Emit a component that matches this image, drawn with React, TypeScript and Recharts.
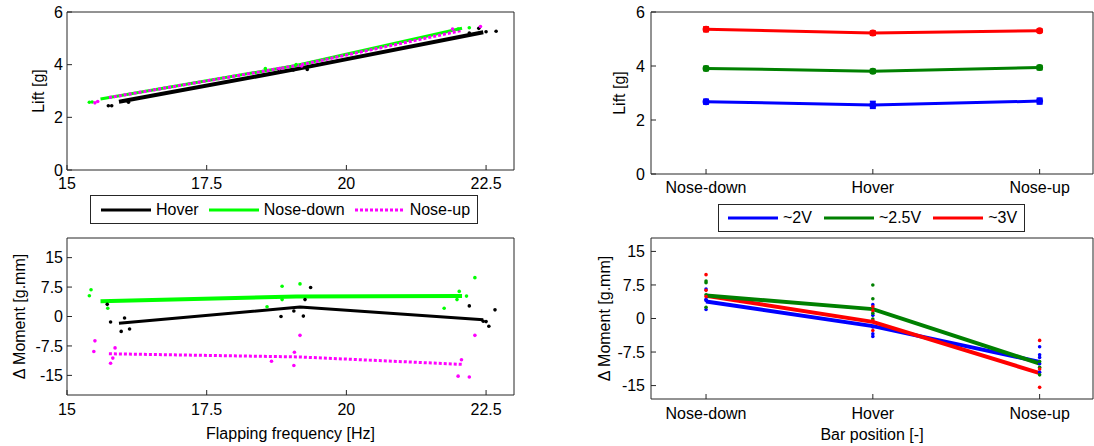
import React from 'react';
import { ComposedChart, Line, Scatter, XAxis, YAxis, ErrorBar } from 'recharts';

const FONT = '"Liberation Sans", Arial, Helvetica, sans-serif';
const AXIS = '#262626';

// ---- left: lift / moment vs flapping frequency ----
const FREQ_TICKS = [15, 17.5, 20, 22.5];
const LIFT_TICKS = [0, 2, 4, 6];
const MOMENT_TICKS = [-15, -7.5, 0, 7.5, 15];

const hoverFreq = [15.93, 19.17, 22.45];
const hoverLift = [2.59, 3.86, 5.23];
const hoverMoment = [-1.7, 2.4, -0.85];

const downFreq = [15.6, 19.1, 22.07];
const downLift = [2.7, 3.97, 5.38];
const downMoment = [3.9, 5.1, 5.2];

const upFreq = [15.75, 19.15, 22.07];
const upLift = [2.75, 3.98, 5.3];
const upMoment = [-9.5, -10.3, -12.2];

// raw samples [freq, value]
const hoverLiftPts = [[15.74, 2.44], [15.8, 2.44], [16.1, 2.57], [18.8, 3.8], [19.05, 3.8], [19.3, 3.82], [22.2, 5.2], [22.37, 5.38], [22.5, 5.25], [22.68, 5.27]];
const downLiftPts = [[15.4, 2.57], [15.45, 2.58], [18.55, 3.85], [19.1, 4.0], [22.0, 5.35], [22.2, 5.4]];
const upLiftPts = [[15.5, 2.55], [15.55, 2.6], [18.8, 3.85], [19.2, 3.95], [21.9, 5.35], [22.4, 5.45]];

const hoverMomentPts = [[15.72, 3.1], [15.78, -1.4], [15.97, -3.8], [16.03, -0.4], [16.12, -3.2], [18.83, 0], [19.06, 1.4], [19.23, 0.1], [19.26, 4.3], [19.36, 7.4], [22.2, 2.7], [22.45, -1.2], [22.5, -1.3], [22.55, -2.5], [22.66, 1.7]];
const downMomentPts = [[15.4, 5.3], [15.43, 6.8], [15.73, 2.1], [18.58, 2.5], [18.85, 4.3], [18.85, 7.7], [19.17, 8.3], [21.75, 2.1], [21.98, 4.3], [22.02, 6.4], [22.15, 5.2], [22.3, 9.9]];
const upMomentPts = [[15.5, -6.2], [15.48, -8.9], [15.78, -11.9], [15.82, -10.6], [15.86, -8.0], [19.17, -4.8], [19.07, -9.1], [19.06, -12.5], [18.66, -11.4], [22.0, -15.2], [22.06, -11.0], [22.2, -15.4], [22.3, -4.8]];

// ---- right: lift / moment vs bar position ----
const POSITIONS = ['Nose-down', 'Hover', 'Nose-up'];
const POS_TICKS = [0, 1, 2];

const lift2V = [2.68, 2.56, 2.7];
const lift25V = [3.91, 3.81, 3.94];
const lift3V = [5.36, 5.22, 5.31];
const liftErr2V = [0.08, 0.12, 0.1];
const liftErr25V = [0.07, 0.06, 0.07];
const liftErr3V = [0.08, 0.07, 0.05];

const moment2V = [3.8, -1.7, -9.7];
const moment25V = [5.15, 2.1, -10.1];
const moment3V = [5.1, -0.75, -12.2];

// raw samples per position
const moment2VPts = [[6.6, 4.0, 2.0, 4.3], [3.1, 0.7, -1.9, -3.4, -4.0], [-6.3, -8.1, -8.7, -10.1, -12.0]];
const moment25VPts = [[8.4, 8.0, 5.3, 2.5], [7.5, 4.4, -0.1, 1.2], [-9.6, -10.9, -12.6]];
const moment3VPts = [[9.8, 6.3, 4.9], [2.6, 1.8, -2.7, -0.5], [-4.9, -11.3, -15.4]];

const series = (xs: number[], ys: number[], errs?: number[]) =>
  xs.map((x, i) => ({ x, y: ys[i], err: errs ? errs[i] : 0 }));
const points = (pts: number[][]) => pts.map(([x, y]) => ({ x, y }));
const posPoints = (groups: number[][]) =>
  groups.flatMap((g, i) => g.map(y => ({ x: i, y })));
const posSeries = (ys: number[], errs?: number[]) => series(POS_TICKS, ys, errs);

const dot = (color: string) => (p: any) => <circle cx={p.cx} cy={p.cy} r={1.8} fill={color} />;

const tickStyle = { fill: '#000', fontSize: 16, fontFamily: FONT };
const labelStyle = { fill: '#000', fontSize: 16, fontFamily: FONT };

interface FrameOpts {
  xDomain: number[];
  xTicks: number[];
  yDomain: number[];
  yTicks: number[];
  xFmt?: (v: number) => string;
  xHeight: number;
  yWidth: number;
  xTickMargin: number;
  yTickMargin: number;
  xLabel?: string;
  xLabelOffset?: number;
  yLabel: string;
  yLabelOffset: number;
}

// box axes with inward ticks on all four sides
function frame(o: FrameOpts) {
  return [
    <XAxis
      key="xb"
      type="number"
      dataKey="x"
      domain={o.xDomain}
      ticks={o.xTicks}
      allowDataOverflow
      height={o.xHeight}
      tickSize={-5}
      tickMargin={o.xTickMargin}
      tickFormatter={o.xFmt}
      tick={tickStyle}
      stroke={AXIS}
      interval={0}
      label={o.xLabel ? { value: o.xLabel, position: 'insideBottom', offset: o.xLabelOffset, ...labelStyle } : undefined}
    />,
    <XAxis
      key="xt"
      xAxisId="t"
      orientation="top"
      type="number"
      domain={o.xDomain}
      ticks={o.xTicks}
      allowDataOverflow
      height={1}
      tickSize={-5}
      tick={false}
      stroke={AXIS}
    />,
    <YAxis
      key="yl"
      type="number"
      dataKey="y"
      domain={o.yDomain}
      ticks={o.yTicks}
      allowDataOverflow
      width={o.yWidth}
      tickSize={-5}
      tickMargin={o.yTickMargin}
      tick={tickStyle}
      stroke={AXIS}
      interval={0}
      label={{ value: o.yLabel, angle: -90, position: 'insideLeft', offset: o.yLabelOffset, style: { textAnchor: 'middle' }, ...labelStyle }}
    />,
    <YAxis
      key="yr"
      yAxisId="r"
      orientation="right"
      type="number"
      domain={o.yDomain}
      ticks={o.yTicks}
      allowDataOverflow
      width={1}
      tickSize={-5}
      tick={false}
      stroke={AXIS}
    />,
  ];
}

const posFmt = (v: number) => POSITIONS[v] ?? '';

function LegendBox({ left, top, width, height, items, gap, pad }: {
  left: number; top: number; width: number; height: number; gap: number; pad: number;
  items: { label: string; color: string; dash?: string }[];
}) {
  return (
    <div
      style={{
        position: 'absolute', left, top, width, height, boxSizing: 'border-box',
        border: `1px solid ${AXIS}`, background: '#fff', display: 'flex', alignItems: 'center',
        paddingLeft: pad, fontFamily: FONT, fontSize: 16, color: '#000', whiteSpace: 'nowrap',
      }}
    >
      {items.map(it => (
        <div key={it.label} style={{ display: 'flex', alignItems: 'center', marginRight: gap, flexShrink: 0 }}>
          <svg width={50} height={6} style={{ marginRight: 5, flexShrink: 0 }}>
            <line x1={0} y1={3} x2={50} y2={3} stroke={it.color} strokeWidth={3} strokeDasharray={it.dash} />
          </svg>
          <span>{it.label}</span>
        </div>
      ))}
    </div>
  );
}

export default function App() {
  return (
    <div style={{ position: 'absolute', left: 0, top: 0, width: 1094, height: 446, background: '#fff', overflow: 'hidden' }}>
      {/* top-left: lift vs frequency */}
      <div style={{ position: 'absolute', left: 0, top: 0 }}>
        <ComposedChart width={540} height={200} margin={{ top: 11, right: 25, bottom: 0, left: 0 }}>
          {frame({
            xDomain: [15, 23], xTicks: FREQ_TICKS, yDomain: [0, 6], yTicks: LIFT_TICKS,
            xHeight: 30, yWidth: 67, xTickMargin: 13, yTickMargin: 9,
            yLabel: 'Lift [g]', yLabelOffset: 38,
          })}
          <Scatter data={points(hoverLiftPts)} dataKey="y" shape={dot('#000')} isAnimationActive={false} />
          <Scatter data={points(downLiftPts)} dataKey="y" shape={dot('#00ff00')} isAnimationActive={false} />
          <Scatter data={points(upLiftPts)} dataKey="y" shape={dot('#ff00ff')} isAnimationActive={false} />
          <Line data={series(hoverFreq, hoverLift)} dataKey="y" stroke="#000" strokeWidth={4} dot={false} isAnimationActive={false} />
          <Line data={series(downFreq, downLift)} dataKey="y" stroke="#00ff00" strokeWidth={3} dot={false} isAnimationActive={false} />
          <Line data={series(upFreq, upLift)} dataKey="y" stroke="#ff00ff" strokeWidth={3} strokeDasharray="3 2" dot={false} isAnimationActive={false} />
        </ComposedChart>
      </div>

      {/* bottom-left: moment vs frequency */}
      <div style={{ position: 'absolute', left: 0, top: 225 }}>
        <ComposedChart width={540} height={221} margin={{ top: 12, right: 25, bottom: 0, left: 0 }}>
          {frame({
            xDomain: [15, 23], xTicks: FREQ_TICKS, yDomain: [-20, 20], yTicks: MOMENT_TICKS,
            xHeight: 51, yWidth: 67, xTickMargin: 14, yTickMargin: 9,
            xLabel: 'Flapping frequency [Hz]', xLabelOffset: 7,
            yLabel: '\u0394 Moment [g.mm]', yLabelOffset: 19,
          })}
          <Scatter data={points(hoverMomentPts)} dataKey="y" shape={dot('#000')} isAnimationActive={false} />
          <Scatter data={points(downMomentPts)} dataKey="y" shape={dot('#00ff00')} isAnimationActive={false} />
          <Scatter data={points(upMomentPts)} dataKey="y" shape={dot('#ff00ff')} isAnimationActive={false} />
          <Line data={series(hoverFreq, hoverMoment)} dataKey="y" stroke="#000" strokeWidth={3} dot={false} isAnimationActive={false} />
          <Line data={series(downFreq, downMoment)} dataKey="y" stroke="#00ff00" strokeWidth={4} dot={false} isAnimationActive={false} />
          <Line data={series(upFreq, upMoment)} dataKey="y" stroke="#ff00ff" strokeWidth={3} strokeDasharray="3 2" dot={false} isAnimationActive={false} />
        </ComposedChart>
      </div>

      {/* top-right: lift vs bar position */}
      <div style={{ position: 'absolute', left: 590, top: 0 }}>
        <ComposedChart width={504} height={200} margin={{ top: 11, right: 0, bottom: 0, left: 0 }}>
          {frame({
            xDomain: [-0.33, 2.32], xTicks: POS_TICKS, yDomain: [0, 6], yTicks: LIFT_TICKS, xFmt: posFmt,
            xHeight: 26, yWidth: 61, xTickMargin: 13, yTickMargin: 11,
            yLabel: 'Lift [g]', yLabelOffset: 29,
          })}
          <Line data={posSeries(lift2V, liftErr2V)} dataKey="y" stroke="#0000ff" strokeWidth={3} dot={{ r: 2, fill: '#0000ff', stroke: '#0000ff' }} isAnimationActive={false}>
            <ErrorBar dataKey="err" direction="y" width={3} stroke="#0000ff" strokeWidth={2} />
          </Line>
          <Line data={posSeries(lift25V, liftErr25V)} dataKey="y" stroke="#008000" strokeWidth={3} dot={{ r: 2, fill: '#008000', stroke: '#008000' }} isAnimationActive={false}>
            <ErrorBar dataKey="err" direction="y" width={3} stroke="#008000" strokeWidth={2} />
          </Line>
          <Line data={posSeries(lift3V, liftErr3V)} dataKey="y" stroke="#ff0000" strokeWidth={3} dot={{ r: 2, fill: '#ff0000', stroke: '#ff0000' }} isAnimationActive={false}>
            <ErrorBar dataKey="err" direction="y" width={3} stroke="#ff0000" strokeWidth={2} />
          </Line>
        </ComposedChart>
      </div>

      {/* bottom-right: moment vs bar position */}
      <div style={{ position: 'absolute', left: 590, top: 225 }}>
        <ComposedChart width={504} height={221} margin={{ top: 12, right: 0, bottom: 0, left: 0 }}>
          {frame({
            xDomain: [-0.33, 2.32], xTicks: POS_TICKS, yDomain: [-18, 18], yTicks: MOMENT_TICKS, xFmt: posFmt,
            xHeight: 47, yWidth: 61, xTickMargin: 14, yTickMargin: 11,
            xLabel: 'Bar position [-]', xLabelOffset: 6,
            yLabel: '\u0394 Moment [g.mm]', yLabelOffset: 14,
          })}
          <Line data={posSeries(moment2V)} dataKey="y" stroke="#0000ff" strokeWidth={4} dot={false} isAnimationActive={false} />
          <Line data={posSeries(moment3V)} dataKey="y" stroke="#ff0000" strokeWidth={4} dot={false} isAnimationActive={false} />
          <Line data={posSeries(moment25V)} dataKey="y" stroke="#008000" strokeWidth={4} dot={false} isAnimationActive={false} />
          <Scatter data={posPoints(moment2VPts)} dataKey="y" shape={dot('#0000ff')} isAnimationActive={false} />
          <Scatter data={posPoints(moment25VPts)} dataKey="y" shape={dot('#008000')} isAnimationActive={false} />
          <Scatter data={posPoints(moment3VPts)} dataKey="y" shape={dot('#ff0000')} isAnimationActive={false} />
        </ComposedChart>
      </div>

      <LegendBox
        left={90} top={195} width={388} height={29} gap={10} pad={10}
        items={[
          { label: 'Hover', color: '#000' },
          { label: 'Nose-down', color: '#00ff00' },
          { label: 'Nose-up', color: '#ff00ff', dash: '3 2' },
        ]}
      />
      <LegendBox
        left={718} top={204} width={307} height={28} gap={12} pad={9}
        items={[
          { label: '~2V', color: '#0000ff' },
          { label: '~2.5V', color: '#008000' },
          { label: '~3V', color: '#ff0000' },
        ]}
      />
    </div>
  );
}
